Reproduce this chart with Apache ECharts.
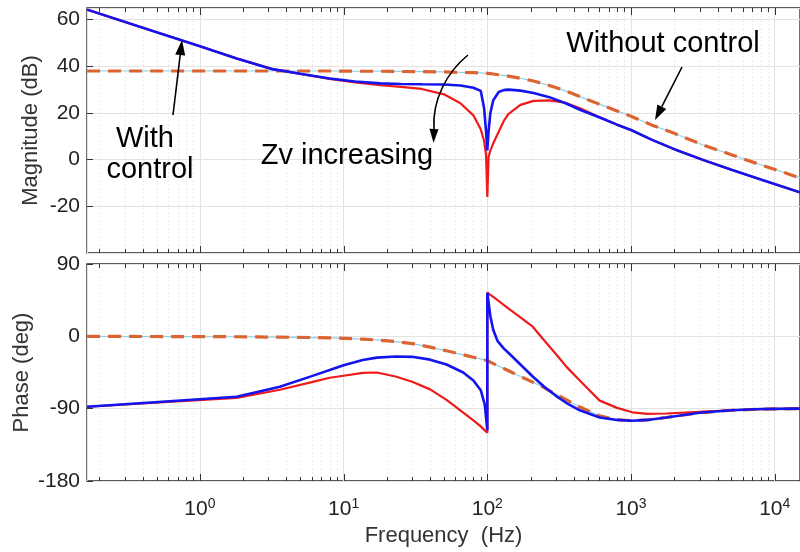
<!DOCTYPE html>
<html><head><meta charset="utf-8">
<script src="https://cdn.jsdelivr.net/npm/echarts@6/dist/echarts.min.js"></script>
<style>html,body{margin:0;padding:0;background:#fff}#c{width:800px;height:552px}</style>
</head><body><div id="c"></div>
<script>
// ---- data (frequency in Hz) ----
const magFreq = [0.164, 0.5, 1, 1.8, 3.2, 5, 8, 12, 18, 25, 35, 50, 65, 80, 90, 95, 98, 100, 102, 105, 110, 120, 130, 140, 170, 210, 270, 350, 450, 600, 800, 1000, 1400, 2000, 3200, 5000, 8000, 15000];
const magBlue = [64.3, 54.6, 48.6, 43.4, 38.8, 36.8, 34.8, 33.5, 32.7, 32.4, 32.3, 32.2, 31.8, 30.8, 29.5, 22, 12, 4, 12, 20, 25.5, 29, 29.8, 30, 29.6, 28.6, 26.8, 24.2, 21.2, 18.2, 15, 12.7, 8.5, 4.5, -0.2, -4.3, -8.5, -14];
const magRed = [64.3, 54.6, 48.6, 43.4, 38.8, 36.7, 34.6, 33.1, 31.9, 31.2, 30.3, 28, 24.2, 19, 13, 8, 2, -16, 1, 4, 7, 12, 16.5, 19.5, 23.5, 25.2, 25.4, 24.4, 21.8, 18.3, 15, 12.7, 8.5, 4.5, -0.2, -4.3, -8.5, -14];
const magNoCtrl = [38, 38, 38, 38, 38, 38, 38, 37.9, 37.9, 37.8, 37.7, 37.6, 37.4, 37.3, 37.2, 37.1, 37.1, 37, 37, 36.9, 36.7, 36.4, 36.1, 35.8, 34.9, 33.7, 31.8, 29.5, 26.8, 23.8, 20.9, 18.6, 14.8, 11.3, 6.2, 2.1, -2.2, -7.8];

const phaseFreq = [0.164, 1.8, 3.6, 6, 8, 10, 13.6, 17, 23, 30, 40, 52, 68, 80, 90, 96, 100, 100, 105, 110, 118, 130, 143, 170, 207, 250, 300, 356, 440, 605, 800, 1020, 1300, 1760, 3000, 5000, 8000, 15000];
const phaseBlue = [-87.6, -75.2, -62.7, -49.5, -42, -36, -29.5, -26.5, -25, -25.5, -29, -35, -45, -55, -67, -85, -117, 54, 25, 8, -6, -15, -22, -35, -50, -63, -74, -83, -92, -101, -104, -105, -104, -101, -95, -92, -90.5, -90];
const phaseRed = [-87.6, -76.5, -66.5, -57, -51.5, -49, -45.5, -45, -50, -56.5, -66, -79, -95, -104.5, -112, -117, -120, 54.5, 51.5, 49, 45, 39, 33.5, 23.5, 12, -5.5, -22, -38, -55, -80, -89, -94.5, -96.5, -96, -94, -92, -90.5, -90];
const phaseNoCtrl = [0, -0.5, -1, -1.5, -2, -2.5, -3.5, -4.5, -6.5, -9, -13.5, -18, -23, -26, -28, -29.5, -30, -30, -32, -34, -36.5, -40, -43.5, -50, -57, -64, -72, -79, -88, -99, -104, -105, -104, -101, -95, -92, -90.5, -90];

const magTicks = [-40, 65, 20];     // min, max, interval
const phaseTicks = [-180, 90, 90];
const freqRange = [0.1637, 15000];
const decadeTicks = [1, 10, 100, 1000, 10000];

// ---- helpers ----
const FONT = 'Liberation Sans, Arial, sans-serif';
const zip = (xs, ys) => xs.map((x, i) => [x, ys[i]]);
const minorFreqs = [];
for (let e = -1; e <= 4; e++) for (let k = 2; k <= 9; k++) {
  const f = k * Math.pow(10, e);
  if (f > freqRange[0] && f < freqRange[1]) minorFreqs.push(f);
}

function tickSeries(idx, yMin, yMax) {
  return {
    type: 'custom', xAxisIndex: idx, yAxisIndex: idx, silent: true, z: 1,
    data: minorFreqs.map(f => [f, 0, 0]).concat(decadeTicks.map(f => [f, 0, 1])),
    renderItem: (params, api) => {
      const f = api.value(0), major = api.value(2) === 1;
      const p1 = api.coord([f, yMax]), p2 = api.coord([f, yMin]);
      const x = Math.round(p1[0]) + 0.5;
      const len = major ? 7 : 4;
      const ch = [
        {type: 'line', shape: {x1: x, y1: p1[1], x2: x, y2: p1[1] + len}, style: {stroke: '#333', lineWidth: 1}},
        {type: 'line', shape: {x1: x, y1: p2[1], x2: x, y2: p2[1] - len}, style: {stroke: '#333', lineWidth: 1}}
      ];
      if (!major) ch.unshift({type: 'line', shape: {x1: x, y1: p1[1], x2: x, y2: p2[1]}, style: {stroke: '#ececec', lineWidth: 1, lineDash: [2, 2]}});
      return {type: 'group', children: ch};
    }
  };
}

function xAxisCfg(gridIndex, showLabels) {
  return {
    type: 'log', logBase: 10, gridIndex, min: freqRange[0], max: freqRange[1],
    axisLine: {show: false}, axisTick: {show: false},
    splitLine: {show: true, lineStyle: {color: '#e2e2e2', width: 1}},
    axisLabel: showLabels ? {
      show: true, margin: 16, showMinLabel: false, showMaxLabel: false, color: '#222',
      formatter: v => '{b|10}{s|' + Math.round(Math.log10(v)) + '}',
      rich: {b: {fontSize: 21, fontFamily: FONT, color: '#222', lineHeight: 25},
             s: {fontSize: 14, fontFamily: FONT, color: '#222', verticalAlign: 'top', lineHeight: 14}}
    } : {show: false},
    name: showLabels ? 'Frequency  (Hz)' : '', nameLocation: 'middle', nameGap: 44,
    nameTextStyle: {fontSize: 22, fontFamily: FONT, color: '#333'}
  };
}

function yAxisCfg(gridIndex, t, name, showMin, showMax, gap) {
  return {
    type: 'value', gridIndex, min: t[0], max: t[1], interval: t[2],
    axisLine: {show: false},
    axisTick: {show: true, inside: true, length: 6, lineStyle: {color: '#333'}},
    splitLine: {show: true, lineStyle: {color: '#e2e2e2', width: 1}},
    axisLabel: {margin: 7, fontSize: 21, fontFamily: FONT, color: '#222', showMinLabel: showMin, showMaxLabel: showMax},
    name, nameLocation: 'middle', nameGap: gap, nameMoveOverlap: false,
    nameTextStyle: {fontSize: 22, fontFamily: FONT, color: '#333'}
  };
}

const C_BLUE = '#1414EE', C_RED = '#F01A1A', C_ORANGE = '#DC6430', C_CYAN = '#8FCFE6';

function lineSeries(name, idx, data, color, width, type, z) {
  return {name, type: 'line', xAxisIndex: idx, yAxisIndex: idx, data, showSymbol: false, symbol: 'none',
    smooth: false, z, lineStyle: {color, width, type}, silent: true, animation: false};
}

function arrowHead(tip, base, half) {
  const dx = tip[0] - base[0], dy = tip[1] - base[1], L = Math.hypot(dx, dy);
  const px = -dy / L * half, py = dx / L * half;
  return {type: 'polygon', z: 100, shape: {points: [tip, [base[0] + px, base[1] + py], [base[0] - px, base[1] - py]]}, style: {fill: '#000'}};
}
function txt(text, x, y) {
  return {type: 'text', z: 100, x, y, style: {text, fontSize: 29, fontFamily: FONT, fill: '#000', align: 'center', verticalAlign: 'middle'}};
}

const chart = echarts.init(document.getElementById('c'), null, {renderer: 'canvas'});
chart.setOption({
  animation: false,
  backgroundColor: '#fff',
  grid: [
    {left: 87, right: 0, top: 8, height: 245, show: true, borderColor: '#262626', borderWidth: 1.3, backgroundColor: '#fff'},
    {left: 87, right: 0, top: 264, height: 217, show: true, borderColor: '#262626', borderWidth: 1.3, backgroundColor: '#fff'}
  ],
  xAxis: [xAxisCfg(0, false), xAxisCfg(1, true)],
  yAxis: [yAxisCfg(0, magTicks, 'Magnitude (dB)', false, false, 45), yAxisCfg(1, phaseTicks, 'Phase (deg)', true, true, 54)],
  series: [
    tickSeries(0, magTicks[0], magTicks[1]),
    tickSeries(1, phaseTicks[0], phaseTicks[1]),
    lineSeries('Without control (base)', 0, zip(magFreq, magNoCtrl), C_CYAN, 1.2, 'solid', 3),
    lineSeries('Without control', 0, zip(magFreq, magNoCtrl), C_ORANGE, 3.2, [13, 8], 4),
    lineSeries('With control (Zv high)', 0, zip(magFreq, magRed), C_RED, 2.2, 'solid', 5),
    lineSeries('With control (Zv low)', 0, zip(magFreq, magBlue), C_BLUE, 2.6, 'solid', 6),
    lineSeries('Without control (base)', 1, zip(phaseFreq, phaseNoCtrl), C_CYAN, 1.2, 'solid', 3),
    lineSeries('Without control', 1, zip(phaseFreq, phaseNoCtrl), C_ORANGE, 3.2, [13, 8], 4),
    lineSeries('With control (Zv high)', 1, zip(phaseFreq, phaseRed), C_RED, 2.2, 'solid', 5),
    lineSeries('With control (Zv low)', 1, zip(phaseFreq, phaseBlue), C_BLUE, 2.6, 'solid', 6)
  ],
  graphic: [
    txt('With', 145, 139),
    txt('control', 150, 170),
    {type: 'line', z: 100, shape: {x1: 173, y1: 115, x2: 180.2, y2: 55}, style: {stroke: '#000', lineWidth: 1.6}},
    arrowHead([182, 40], [180.2, 55], 5),
    txt('Zv increasing', 347, 156),
    {type: 'bezierCurve', z: 100, shape: {x1: 468, y1: 55, x2: 434, y2: 129, cpx1: 447, cpy1: 72, cpx2: 432, cpy2: 100}, style: {stroke: '#000', lineWidth: 1.6, fill: null}},
    arrowHead([433.5, 143], [434, 129], 4.5),
    txt('Without control', 663, 44),
    {type: 'line', z: 100, shape: {x1: 682, y1: 67, x2: 661.8, y2: 106.7}, style: {stroke: '#000', lineWidth: 1.6}},
    arrowHead([655, 120], [661.8, 106.7], 5)
  ]
});
</script>
</body></html>
